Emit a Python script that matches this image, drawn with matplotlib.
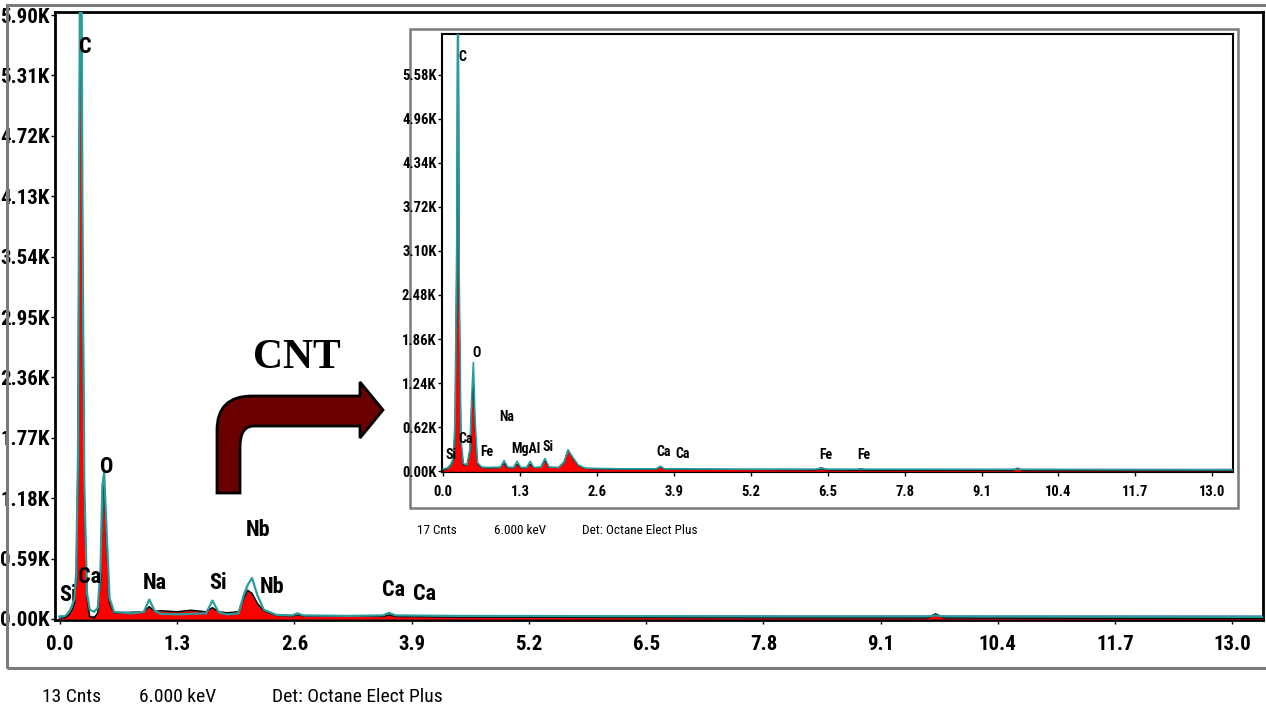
#!/usr/bin/env python3
"""EDS spectrum of the Nb sample with the CNT spectrum as an inset."""

import matplotlib
matplotlib.use("Agg")
import matplotlib.pyplot as plt
from matplotlib.path import Path
from matplotlib.patches import PathPatch, Rectangle
from matplotlib.ticker import FuncFormatter

plt.rcParams["font.family"] = ["Roboto Condensed", "DejaVu Sans Condensed", "Roboto", "DejaVu Sans"]

# ---- main spectrum (keV, counts) ----
main_e = [0.00, 0.06, 0.10, 0.13, 0.16, 0.18, 0.20, 0.215, 0.225, 0.235, 0.25, 0.27, 0.30, 0.33,
          0.38, 0.42, 0.45, 0.47, 0.49, 0.52, 0.55, 0.60, 0.80, 0.93, 0.99, 1.05, 1.12, 1.30,
          1.45, 1.62, 1.69, 1.76, 1.85, 1.98, 2.04, 2.08, 2.13, 2.19, 2.26, 2.40, 2.58, 2.63,
          2.70, 3.20, 3.58, 3.65, 3.72, 4.40, 6.00, 8.00, 9.62, 9.71, 9.80, 11.5, 13.4]
main_red = [10, 15, 40, 80, 150, 400, 1500, 4500, 6300, 6300, 3500, 1200, 200, 20,
            10, 60, 400, 1200, 1330, 700, 150, 60, 65, 70, 120, 75, 80, 70,
            85, 70, 110, 70, 60, 70, 200, 280, 250, 150, 80, 35, 30, 40,
            30, 30, 25, 40, 25, 20, 15, 12, 10, 50, 10, 8, 6]
main_teal = [20, 30, 70, 120, 200, 450, 1600, 4800, 7200, 7200, 3800, 1300, 250, 90,
             70, 110, 500, 1300, 1430, 800, 200, 70, 55, 70, 190, 80, 50, 45,
             50, 55, 180, 65, 45, 55, 240, 330, 400, 230, 90, 40, 35, 55,
             35, 30, 35, 60, 35, 30, 28, 25, 25, 35, 25, 22, 20]
main_blue_e = [0.0, 0.5, 2.0, 4.0, 7.0, 13.4]
main_blue = [20, 15, 10, 15, 20, 20]

main_peaks = ["C", "O", "Si", "Ca", "Na", "Si", "Nb", "Nb", "Ca", "Ca"]
main_peak_x = [0.28, 0.52, 0.09, 0.33, 1.05, 1.75, 2.20, 2.35, 3.70, 4.04]
main_peak_y = [5590, 1480, 230, 410, 350, 350, 870, 310, 280, 240]

# ---- inset spectrum: CNT (keV, counts) ----
ins_e = [0.00, 0.08, 0.13, 0.17, 0.20, 0.23, 0.245, 0.255, 0.27, 0.30, 0.34, 0.40, 0.45,
         0.48, 0.51, 0.54, 0.58, 0.65, 0.72, 0.80, 0.97, 1.03, 1.09, 1.19, 1.25, 1.31,
         1.41, 1.47, 1.53, 1.65, 1.72, 1.79, 1.95, 2.04, 2.11, 2.18, 2.28, 2.40, 2.60,
         3.00, 3.60, 3.67, 3.74, 5.00, 6.30, 6.39, 6.48, 7.00, 7.06, 7.12, 9.62, 9.71,
         9.80, 11.5, 13.4]
ins_red = [20, 40, 80, 150, 600, 3000, 6400, 6400, 2500, 400, 90, 80, 250,
           900, 1280, 600, 100, 50, 45, 45, 50, 110, 50, 45, 100, 45,
           50, 100, 50, 55, 150, 55, 50, 120, 300, 200, 80, 40, 35,
           30, 30, 60, 30, 25, 20, 30, 20, 15, 20, 15, 10, 45, 10, 8, 6]
ins_teal = [30, 50, 100, 180, 700, 3300, 6800, 6800, 2800, 450, 110, 90, 300,
            1000, 1530, 700, 120, 60, 55, 55, 60, 150, 60, 55, 140, 55,
            55, 140, 55, 60, 180, 60, 55, 130, 300, 210, 90, 45, 40,
            35, 35, 70, 35, 30, 30, 40, 30, 28, 35, 28, 25, 30, 25, 22, 20]
ins_blue_e = [0.0, 0.6, 3.0, 6.3, 6.39, 6.48, 7.0, 7.06, 7.12, 13.4]
ins_blue = [15, 20, 20, 20, 45, 20, 20, 30, 20, 20]

ins_peaks = ["C", "O", "Na", "Si", "Ca", "Fe", "MgAl", "Si", "Ca", "Ca", "Fe", "Fe"]
ins_peak_x = [0.32, 0.57, 1.08, 0.13, 0.37, 0.74, 1.39, 1.77, 3.73, 4.05, 6.47, 7.11]
ins_peak_y = [5820, 1670, 760, 230, 460, 270, 320, 340, 270, 250, 230, 230]

main_yticks = [0, 590, 1180, 1770, 2360, 2950, 3540, 4130, 4720, 5310, 5900]
ins_yticks = [0, 620, 1240, 1860, 2480, 3100, 3720, 4340, 4960, 5580]
xticks = [0.0, 1.3, 2.6, 3.9, 5.2, 6.5, 7.8, 9.1, 10.4, 11.7, 13.0]

W, H = 1266, 713
fig = plt.figure(figsize=(W / 100, H / 100), dpi=100)


def px(x, y):
    # figure pixels (top-left origin) -> figure fraction
    return x / W, 1 - y / H


kfmt = FuncFormatter(lambda v, p: f"{v / 1000:.2f}K")


def spectrum(ax, e, red, teal, be, blue, lw):
    ax.plot(be, blue, color="#1c3fa8", lw=lw * 1.3, zorder=2)
    ax.fill_between(e, 0, red, color="#ff0000", lw=0, zorder=3)
    ax.plot(e, red, color="black", lw=lw * 0.7, zorder=4)
    ax.plot(e, teal, color="#2a9c9c", lw=lw, zorder=5)


def style(ax, fs, lw, pad):
    for s in ax.spines.values():
        s.set_linewidth(lw)
        s.set_color("black")
    ax.set_xticks(xticks)
    ax.set_xticklabels([f"{t:.1f}" for t in xticks])
    ax.yaxis.set_major_formatter(kfmt)
    ax.tick_params(axis="both", direction="out", length=3, width=1, labelsize=fs)
    ax.tick_params(axis="x", pad=pad)
    ax.tick_params(axis="y", pad=1)
    for lab in ax.get_xticklabels() + ax.get_yticklabels():
        lab.set_fontweight("bold")


# outer grey frame of the main figure
l, t = px(7, 5)
r, b = px(1272, 668)
fig.patches.append(Rectangle((l, b), r - l, t - b, transform=fig.transFigure,
                             fill=False, ec="#7a7a7a", lw=2.2, zorder=0))

# main axes
l, t = px(55, 12)
r, b = px(1263, 620)
ax = fig.add_axes([l, b, r - l, t - b])
spectrum(ax, main_e, main_red, main_teal, main_blue_e, main_blue, 1.6)
ax.set_xlim(-0.055, 13.34)
ax.set_ylim(-10, 5930)
ax.set_yticks(main_yticks)
style(ax, 15, 2.0, 8)
for name, x, y in zip(main_peaks, main_peak_x, main_peak_y):
    ax.text(x, y, name, ha="center", va="center", fontsize=16, fontweight="bold",
            zorder=6 if name != "Si" or x > 1 else 1)

fig.text(*px(72, 697), "13 Cnts", ha="center", va="center", fontsize=14)
fig.text(*px(178, 697), "6.000 keV", ha="center", va="center", fontsize=14)
fig.text(*px(357, 697), "Det: Octane Elect Plus", ha="center", va="center", fontsize=14)

# inset grey frame
l, t = px(410, 29)
r, b = px(1238, 508)
fig.patches.append(Rectangle((l, b), r - l, t - b, transform=fig.transFigure,
                             fc="white", ec="#7a7a7a", lw=1.8, zorder=1))

# inset axes
l, t = px(442, 34)
r, b = px(1233, 472)
ins = fig.add_axes([l, b, r - l, t - b])
ins.set_zorder(2)
spectrum(ins, ins_e, ins_red, ins_teal, ins_blue_e, ins_blue, 1.2)
ins.set_xlim(-0.02, 13.35)
ins.set_ylim(-10, 6150)
ins.set_yticks(ins_yticks)
style(ins, 10.5, 1.5, 6)
for name, x, y in zip(ins_peaks, ins_peak_x, ins_peak_y):
    ins.text(x, y, name, ha="center", va="center", fontsize=10, fontweight="bold", zorder=6)

fig.text(*px(437, 530), "17 Cnts", ha="center", va="center", fontsize=9.5, zorder=3)
fig.text(*px(520, 530), "6.000 keV", ha="center", va="center", fontsize=9.5, zorder=3)
fig.text(*px(640, 530), "Det: Octane Elect Plus", ha="center", va="center", fontsize=9.5, zorder=3)

# bent "CNT" arrow
verts = [px(217, 493), px(217, 430), px(217, 396), px(252, 396), px(360, 396),
         px(360, 382), px(383, 410), px(360, 438), px(360, 426), px(254, 426),
         px(240, 426), px(240, 447), px(240, 493), px(217, 493)]
codes = [Path.MOVETO, Path.LINETO, Path.CURVE3, Path.CURVE3, Path.LINETO,
         Path.LINETO, Path.LINETO, Path.LINETO, Path.LINETO, Path.LINETO,
         Path.CURVE3, Path.CURVE3, Path.LINETO, Path.CLOSEPOLY]
fig.patches.append(PathPatch(Path(verts, codes), transform=fig.transFigure,
                             fc="#6b0000", ec="black", lw=2, zorder=3))
fig.text(*px(297, 358), "CNT", ha="center", va="center", fontsize=30,
         fontweight="bold", family=["Liberation Serif", "DejaVu Serif"])

fig.savefig("out.png", dpi=100)
